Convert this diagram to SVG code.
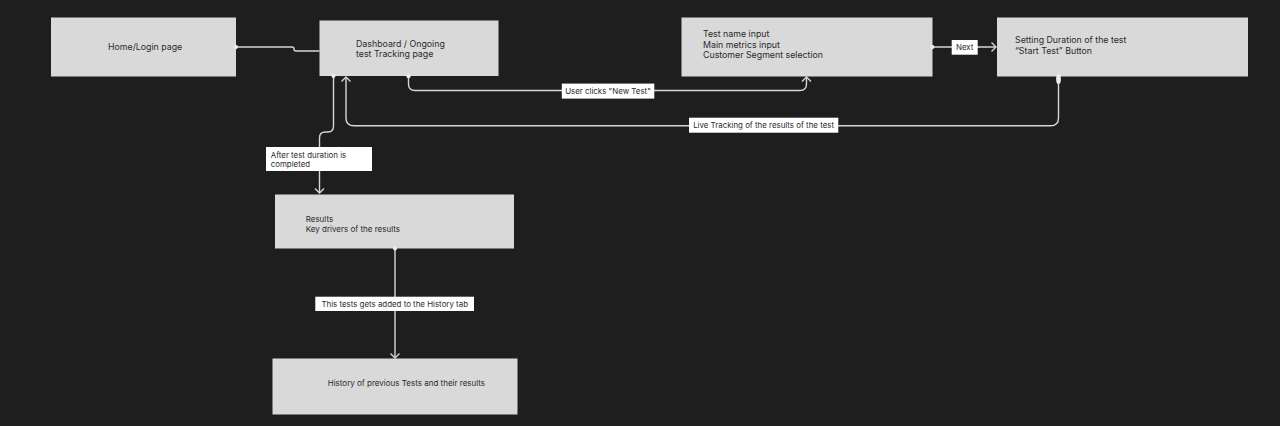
<svg xmlns="http://www.w3.org/2000/svg" width="1280" height="426" viewBox="0 0 1280 426">
<style>
.node{fill:#d9d9d9}
.t{font-family:Inter,"Liberation Sans",sans-serif;fill:#2b2b2b}
.big{font-size:8.8px}
.sm{font-size:8px}
.lbl{fill:#ffffff}
.lt{font-family:Inter,"Liberation Sans",sans-serif;font-size:7.9px;fill:#2b2b2b}
.c{fill:none;stroke:#d6d6d6;stroke-width:1.4}
.dot{fill:#eeeeee}
</style>
<defs>
<marker id="arr" viewBox="-7 -7 14 14" refX="0" refY="0" markerWidth="14" markerHeight="14" markerUnits="userSpaceOnUse" orient="auto">
<path d="M-4.5,-4.5 L0,0 L-4.5,4.5" fill="none" stroke="#d6d6d6" stroke-width="1.4"/>
</marker>
</defs>
<rect width="1280" height="426" fill="#1e1e1e"/>

<g id="home">
<rect class="node" x="51" y="17.5" width="185" height="59"/>
<text class="t big" x="108" y="50">Home/Login page</text>
</g>
<g id="dashboard">
<rect class="node" x="319.5" y="20.5" width="179" height="55.5"/>
<text class="t big" x="356" y="46.5">Dashboard / Ongoing</text>
<text class="t big" x="356" y="57.2">test Tracking page</text>
</g>
<g id="test-input">
<rect class="node" x="681.5" y="17.5" width="251" height="59"/>
<text class="t big" x="703" y="37.3">Test name input</text>
<text class="t big" x="703" y="47.6">Main metrics input</text>
<text class="t big" x="703" y="57.9">Customer Segment selection</text>
</g>
<g id="duration">
<rect class="node" x="997" y="17.5" width="251" height="59"/>
<text class="t big" x="1015" y="43.3">Setting Duration of the test</text>
<text class="t big" x="1015" y="53.5">“Start Test” Button</text>
</g>
<g id="results">
<rect class="node" x="275" y="194.5" width="239" height="54"/>
<text class="t sm" x="305.7" y="222.3">Results</text>
<text class="t sm" x="305.7" y="231.7">Key drivers of the results</text>
</g>
<g id="history">
<rect class="node" x="272.5" y="358.5" width="245" height="56"/>
<text class="t sm" x="327.7" y="385.7">History of previous Tests and their results</text>
</g>

<g id="connectors">
<path class="c" d="M236,47 H292 Q294,47 294,49 Q294,51 296,51 H319.5"/>
<path class="c" d="M333.5,76 V126 Q333.5,132 328,132 H325.5 Q319.5,132 319.5,138 V193" marker-end="url(#arr)"/>
<path class="c" d="M408.5,76 V84 Q408.5,90.5 415,90.5 H800 Q806.5,90.5 806.5,84 V77" marker-end="url(#arr)"/>
<path class="c" d="M1058.5,76 V118 Q1058.5,125.8 1050.5,125.8 H354 Q346,125.8 346,118 V77" marker-end="url(#arr)"/>
<path class="c" d="M932.5,47 H996" marker-end="url(#arr)"/>
<path class="c" d="M395,248.5 V358" marker-end="url(#arr)"/>
<circle class="dot" cx="236" cy="47" r="2"/>
<circle class="dot" cx="333.5" cy="76" r="2"/>
<circle class="dot" cx="408.5" cy="76" r="2.2"/>
<circle class="dot" cx="932.5" cy="47" r="2"/>
<circle class="dot" cx="395" cy="248.5" r="2"/>
<ellipse class="dot" cx="1058.5" cy="79" rx="2.4" ry="5"/>

<rect class="lbl" x="951.7" y="40" width="26" height="14.7"/>
<text class="lt" x="964.7" y="50.2" text-anchor="middle">Next</text>
<rect class="lbl" x="561.8" y="83.6" width="92.5" height="15"/>
<text class="lt" x="608" y="94" text-anchor="middle">User clicks "New Test"</text>
<rect class="lbl" x="689" y="117.7" width="149.3" height="15"/>
<text class="lt" x="763.6" y="128.1" text-anchor="middle">Live Tracking of the results of the test</text>
<rect class="lbl" x="266" y="147" width="106" height="24"/>
<text class="lt" x="270.7" y="158">After test duration is</text>
<text class="lt" x="270.7" y="167.3">completed</text>
<rect class="lbl" x="315.3" y="296.7" width="158.7" height="14.3"/>
<text class="lt" x="394.7" y="306.7" text-anchor="middle">This tests gets added to the History tab</text>
</g>
</svg>
